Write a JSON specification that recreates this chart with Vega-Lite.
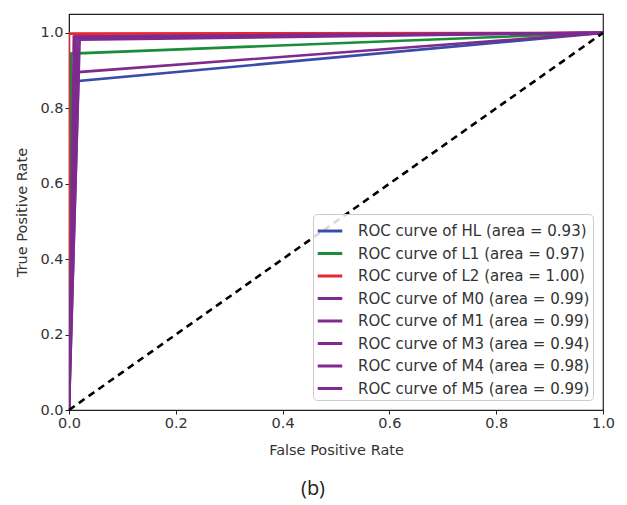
{
  "$schema": "https://vega.github.io/schema/vega-lite/v6.json",
  "width": 534,
  "height": 396,
  "autosize": {"type": "none"},
  "padding": {"left": 69, "top": 14, "right": 24, "bottom": 95},
  "background": "white",
  "title": {
    "text": "(b)",
    "orient": "bottom",
    "anchor": "middle",
    "frame": "group",
    "offset": 22,
    "dx": -23,
    "fontSize": 20,
    "font": "Open Sans",
    "fontWeight": "normal",
    "color": "#222"
  },
  "config": {
    "view": {"stroke": "#222", "strokeWidth": 1.2},
    "font": "DejaVu Sans",
    "axis": {
      "grid": false,
      "domainColor": "#222",
      "tickColor": "#222",
      "tickSize": 4,
      "labelFontSize": 14.5,
      "labelColor": "#333",
      "labelFlush": false,
      "titleFontSize": 14.5,
      "titleFontWeight": "normal",
      "titleColor": "#333",
      "labelFont": "DejaVu Sans",
      "titleFont": "DejaVu Sans"
    }
  },
  "layer": [
    {
      "data": {
        "values": [
          {"model": "ROC curve of HL (area = 0.93)", "step": 0, "fpr": 0, "tpr": 0},
          {"model": "ROC curve of HL (area = 0.93)", "step": 1, "fpr": 0.008, "tpr": 0.871},
          {"model": "ROC curve of HL (area = 0.93)", "step": 2, "fpr": 1, "tpr": 1},
          {"model": "ROC curve of L1 (area = 0.97)", "step": 0, "fpr": 0, "tpr": 0},
          {"model": "ROC curve of L1 (area = 0.97)", "step": 1, "fpr": 0.004, "tpr": 0.945},
          {"model": "ROC curve of L1 (area = 0.97)", "step": 2, "fpr": 1, "tpr": 1},
          {"model": "ROC curve of L2 (area = 1.00)", "step": 0, "fpr": 0, "tpr": 0},
          {"model": "ROC curve of L2 (area = 1.00)", "step": 1, "fpr": 0.0, "tpr": 0.998},
          {"model": "ROC curve of L2 (area = 1.00)", "step": 2, "fpr": 1, "tpr": 1},
          {"model": "ROC curve of M0 (area = 0.99)", "step": 0, "fpr": 0, "tpr": 0},
          {"model": "ROC curve of M0 (area = 0.99)", "step": 1, "fpr": 0.012, "tpr": 0.99},
          {"model": "ROC curve of M0 (area = 0.99)", "step": 2, "fpr": 1, "tpr": 1},
          {"model": "ROC curve of M1 (area = 0.99)", "step": 0, "fpr": 0, "tpr": 0},
          {"model": "ROC curve of M1 (area = 0.99)", "step": 1, "fpr": 0.016, "tpr": 0.986},
          {"model": "ROC curve of M1 (area = 0.99)", "step": 2, "fpr": 1, "tpr": 1},
          {"model": "ROC curve of M3 (area = 0.94)", "step": 0, "fpr": 0, "tpr": 0},
          {"model": "ROC curve of M3 (area = 0.94)", "step": 1, "fpr": 0.018, "tpr": 0.896},
          {"model": "ROC curve of M3 (area = 0.94)", "step": 2, "fpr": 1, "tpr": 1},
          {"model": "ROC curve of M4 (area = 0.98)", "step": 0, "fpr": 0, "tpr": 0},
          {"model": "ROC curve of M4 (area = 0.98)", "step": 1, "fpr": 0.02, "tpr": 0.982},
          {"model": "ROC curve of M4 (area = 0.98)", "step": 2, "fpr": 1, "tpr": 1},
          {"model": "ROC curve of M5 (area = 0.99)", "step": 0, "fpr": 0, "tpr": 0},
          {"model": "ROC curve of M5 (area = 0.99)", "step": 1, "fpr": 0.009, "tpr": 0.99},
          {"model": "ROC curve of M5 (area = 0.99)", "step": 2, "fpr": 1, "tpr": 1}
        ]
      },
      "mark": {"type": "line", "strokeWidth": 2.6, "clip": true},
      "encoding": {
        "x": {
          "field": "fpr", "type": "quantitative",
          "scale": {"domain": [0, 1], "nice": false, "zero": false},
          "axis": {"values": [0, 0.2, 0.4, 0.6, 0.8, 1.0], "format": ".1f", "title": "False Positive Rate", "titlePadding": 14}
        },
        "y": {
          "field": "tpr", "type": "quantitative",
          "scale": {"domain": [0, 1.05], "nice": false, "zero": false},
          "axis": {"values": [0, 0.2, 0.4, 0.6, 0.8, 1.0], "format": ".1f", "title": "True Positive Rate", "titlePadding": 10}
        },
        "order": {"field": "step", "type": "quantitative"},
        "color": {
          "field": "model", "type": "nominal",
          "scale": {
            "domain": [
              "ROC curve of HL (area = 0.93)",
              "ROC curve of L1 (area = 0.97)",
              "ROC curve of L2 (area = 1.00)",
              "ROC curve of M0 (area = 0.99)",
              "ROC curve of M1 (area = 0.99)",
              "ROC curve of M3 (area = 0.94)",
              "ROC curve of M4 (area = 0.98)",
              "ROC curve of M5 (area = 0.99)"
            ],
            "range": ["#3a4ca8", "#1a8c3a", "#e8262b", "#7e2a8e", "#7e2a8e", "#7e2a8e", "#7e2a8e", "#7e2a8e"]
          },
          "legend": {
            "title": null,
            "orient": "bottom-right",
            "offset": 10,
            "symbolType": "stroke",
            "symbolSize": 600,
            "symbolStrokeWidth": 3,
            "labelFontSize": 15,
            "labelColor": "#333",
            "labelFont": "DejaVu Sans",
            "rowPadding": 0.5,
            "labelOffset": 14,
            "padding": 3,
            "fillColor": "rgba(255,255,255,0.85)",
            "strokeColor": "#cccccc",
            "cornerRadius": 4,
            "labelLimit": 400
          }
        }
      }
    },
    {
      "data": {"values": [{"x": 0, "y": 0}, {"x": 1, "y": 1}]},
      "mark": {"type": "line", "color": "black", "strokeWidth": 2.6, "strokeDash": [7, 5]},
      "encoding": {
        "x": {"field": "x", "type": "quantitative"},
        "y": {"field": "y", "type": "quantitative"}
      }
    }
  ]
}
